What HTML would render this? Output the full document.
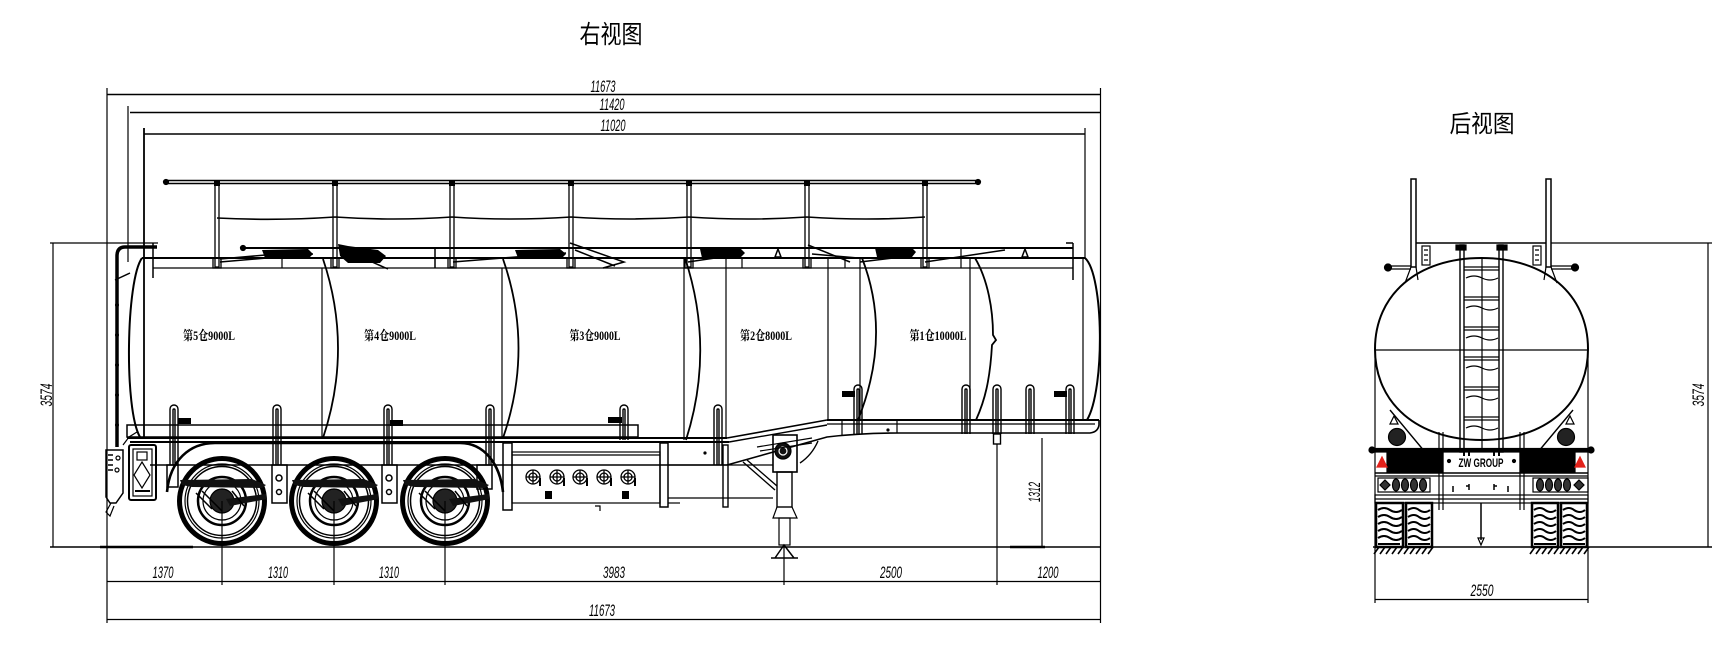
<!DOCTYPE html>
<html><head><meta charset="utf-8">
<style>
html,body{margin:0;padding:0;background:#fff;}
svg{display:block}
.t{font-family:"Liberation Sans","Noto Sans CJK SC",sans-serif;fill:#000;stroke:none}
.d{font-family:"Liberation Sans",sans-serif;font-style:italic;font-size:17px;fill:#000;stroke:none}
.l{font-family:"Liberation Serif","Noto Serif CJK SC",serif;font-weight:bold;font-size:13px;fill:#000;stroke:none}
</style></head>
<body>
<svg width="1726" height="645" viewBox="0 0 1726 645" xmlns="http://www.w3.org/2000/svg">
<rect width="1726" height="645" fill="#fff"/>

<!-- Titles -->
<text class="t" x="611" y="43" font-size="25" text-anchor="middle" textLength="63" lengthAdjust="spacingAndGlyphs">右视图</text>
<text class="t" x="1482" y="132" font-size="24" text-anchor="middle" textLength="65" lengthAdjust="spacingAndGlyphs">后视图</text>

<g stroke="#000" fill="none" stroke-width="1.2">
<!-- ========== MAIN VIEW: dimensions ========== -->
<line x1="107" y1="94.5" x2="1101" y2="94.5" stroke-width="1.4"/>
<line x1="130" y1="112.5" x2="1101" y2="112.5" stroke-width="1.4"/>
<line x1="144" y1="134" x2="1085" y2="134" stroke-width="1.4"/>
<line x1="107" y1="88" x2="107" y2="623"/>
<line x1="1100.5" y1="88" x2="1100.5" y2="623"/>
<line x1="128" y1="106" x2="128" y2="262"/>
<line x1="144" y1="128" x2="144" y2="437" stroke-width="1.8"/>
<line x1="1085" y1="128" x2="1085" y2="258"/>
<!-- 3574 left -->
<line x1="50" y1="243" x2="158" y2="243"/>
<line x1="53" y1="243" x2="53" y2="547"/>
<!-- ground -->
<line x1="50" y1="547" x2="1101" y2="547" stroke-width="1.5"/>
<line x1="100" y1="547" x2="193" y2="547" stroke-width="2.5"/>
<!-- bottom dims -->
<line x1="107" y1="581.5" x2="1100" y2="581.5" stroke-width="1.3"/>
<line x1="107" y1="619.5" x2="1100" y2="619.5" stroke-width="1.3"/>
<line x1="784" y1="545" x2="784" y2="585"/>
<line x1="997" y1="443" x2="997" y2="585"/>
<line x1="1042" y1="438" x2="1042" y2="547"/>
<line x1="1010" y1="547" x2="1045" y2="547" stroke-width="2.5"/>

<!-- ========== Handrail ========== -->
<line x1="166" y1="180.5" x2="978" y2="180.5" stroke-width="1.5"/>
<line x1="166" y1="183.5" x2="978" y2="183.5" stroke-width="1.5"/>
<circle cx="166" cy="182" r="2.5" fill="#000"/>
<circle cx="978" cy="182" r="2.5" fill="#000"/>
<g stroke-width="1.3">
<rect x="215" y="181" width="4" height="86"/><rect x="333" y="181" width="4" height="86"/>
<rect x="450" y="181" width="4" height="86"/><rect x="569" y="181" width="4" height="86"/>
<rect x="687" y="181" width="4" height="86"/><rect x="805" y="181" width="4" height="86"/>
<rect x="923" y="181" width="4" height="86"/>
</g>
<g fill="#000" stroke="none">
<rect x="214" y="181" width="6" height="5"/><rect x="332" y="181" width="6" height="5"/>
<rect x="449" y="181" width="6" height="5"/><rect x="568" y="181" width="6" height="5"/>
<rect x="686" y="181" width="6" height="5"/><rect x="804" y="181" width="6" height="5"/>
<rect x="922" y="181" width="6" height="5"/>
</g>
<g stroke-width="1.3">
<rect x="213" y="258" width="8" height="10"/><rect x="331" y="258" width="8" height="10"/>
<rect x="448" y="258" width="8" height="10"/><rect x="567" y="258" width="8" height="10"/>
<rect x="685" y="258" width="8" height="10"/><rect x="803" y="258" width="8" height="10"/>
<rect x="921" y="258" width="8" height="10"/>
</g>
<path d="M217 218 Q276 221 335 217 Q394 221 452 217 Q511 221 571 217 Q630 221 689 217 Q748 221 807 217 Q866 221 925 217" stroke-width="1.6"/>

<!-- walkway / top -->
<line x1="243" y1="248" x2="1073" y2="248" stroke-width="2"/>
<circle cx="243" cy="248" r="2.5" fill="#000"/>
<line x1="142" y1="258" x2="1085" y2="258" stroke-width="2"/>
<line x1="153" y1="268" x2="1073" y2="268" stroke-width="1.3"/>
<line x1="153" y1="243" x2="153" y2="278" stroke-width="1.5"/>
<line x1="1073" y1="243" x2="1073" y2="280" stroke-width="1.5"/>
<line x1="1066" y1="243" x2="1073" y2="243" stroke-width="1.5"/>
<line x1="282" y1="258" x2="282" y2="268"/>
<line x1="435" y1="248" x2="435" y2="268" stroke-width="1.5"/>
<line x1="742" y1="258" x2="742" y2="268"/>
<line x1="845" y1="258" x2="845" y2="268"/>
<line x1="961" y1="248" x2="961" y2="268"/>
<!-- manholes / levers -->
<g fill="#000" stroke="none">
<path d="M262 250 L308 249 L313 254 L309 258 L265 258 Z"/>
<path d="M338 244 L348 246 L378 250 L386 256 L380 263 L348 263 L340 256 Z"/>
<path d="M515 250 L560 249 L566 254 L562 258 L518 258 Z"/>
<path d="M700 249 L740 248 L745 253 L740 258 L702 258 Z"/>
<path d="M875 248 L912 248 L916 252 L912 257 L877 257 Z"/>
</g>
<g stroke-width="1.5">
<path d="M220 262 L313 254"/><path d="M220 259 L300 252"/>
<path d="M372 262 L388 269"/>
<path d="M453 262 L566 253"/>
<path d="M570 243 L624 262 L603 268"/><path d="M575 250 L615 266"/>
<path d="M688 262 L742 254"/>
<path d="M808 245 L850 262"/><path d="M812 254 L858 258"/>
<path d="M860 262 L910 256"/>
<path d="M925 262 L1005 250"/>
<path d="M775 257 L778 249 L781 257 Z"/><path d="M1022 257 L1025 249 L1028 257 Z"/>
</g>

<!-- left pipe -->
<path d="M157 247 L125 247 Q117 247 117 256 L117 447" stroke-width="3.5"/>
<path d="M115 280 L130 273" stroke-width="1.5"/>
<g fill="#000" stroke="none">
<circle cx="117" cy="305" r="2"/><circle cx="117" cy="335" r="2"/><circle cx="117" cy="365" r="2"/>
<circle cx="117" cy="395" r="2"/><circle cx="117" cy="425" r="2"/>
</g>

<!-- ========== Tank ========== -->
<path d="M142 258 C126 280 124 410 140 437" stroke-width="2"/>
<path d="M1085 258 C1104 275 1105 390 1087 420" stroke-width="2"/>
<!-- dividers -->
<line x1="322" y1="268" x2="322" y2="437"/>
<path d="M323 259 Q353 348 323 438" stroke-width="1.8"/>
<line x1="502" y1="268" x2="502" y2="437"/>
<path d="M503 259 Q534 348 503 438" stroke-width="1.8"/>
<line x1="684" y1="258" x2="684" y2="440"/>
<path d="M685 258 Q715 349 686 440" stroke-width="1.8"/>
<line x1="726" y1="258" x2="726" y2="438"/>
<line x1="828" y1="258" x2="828" y2="420"/>
<line x1="860" y1="258" x2="860" y2="420"/>
<path d="M862 258 Q892 335 858 420" stroke-width="1.8"/>
<line x1="970" y1="258" x2="970" y2="420"/>
<path d="M975 258 C988 280 993 310 993 335 L996 340 L992 345 C990 380 985 400 976 420" stroke-width="1.8"/>
<line x1="1083" y1="258" x2="1083" y2="420"/>

<!-- compartment labels -->
<text class="l" x="209" y="340" text-anchor="middle" textLength="52" lengthAdjust="spacingAndGlyphs">第5仓9000L</text>
<text class="l" x="390" y="340" text-anchor="middle" textLength="52" lengthAdjust="spacingAndGlyphs">第4仓9000L</text>
<text class="l" x="595" y="340" text-anchor="middle" textLength="51" lengthAdjust="spacingAndGlyphs">第3仓9000L</text>
<text class="l" x="766" y="340" text-anchor="middle" textLength="52" lengthAdjust="spacingAndGlyphs">第2仓8000L</text>
<text class="l" x="938" y="340" text-anchor="middle" textLength="57" lengthAdjust="spacingAndGlyphs">第1仓10000L</text>

<!-- handles rear -->
<g stroke-width="1.4">
<path d="M170 465 L170 409 A4 4 0 0 1 178 409 L178 465"/><path d="M173 465 L173 410 A1 1 0 0 1 175 410 L175 465"/>
<path d="M273 465 L273 409 A4 4 0 0 1 281 409 L281 465"/><path d="M276 465 L276 410 A1 1 0 0 1 278 410 L278 465"/>
<path d="M384 465 L384 409 A4 4 0 0 1 392 409 L392 465"/><path d="M387 465 L387 410 A1 1 0 0 1 389 410 L389 465"/>
<path d="M486 465 L486 409 A4 4 0 0 1 494 409 L494 465"/><path d="M489 465 L489 410 A1 1 0 0 1 491 410 L491 465"/>
<path d="M620 440 L620 409 A4 4 0 0 1 628 409 L628 440"/><path d="M623 440 L623 410 A1 1 0 0 1 625 410 L625 440"/>
<path d="M714 465 L714 409 A4 4 0 0 1 722 409 L722 465"/><path d="M717 465 L717 410 A1 1 0 0 1 719 410 L719 465"/>
<!-- front -->
<path d="M854 434 L854 389 A4 4 0 0 1 862 389 L862 434"/><path d="M857 434 L857 390 A1 1 0 0 1 859 390 L859 434"/>
<path d="M962 434 L962 389 A4 4 0 0 1 970 389 L970 434"/><path d="M965 434 L965 390 A1 1 0 0 1 967 390 L967 434"/>
<path d="M993 434 L993 389 A4 4 0 0 1 1001 389 L1001 434"/><path d="M996 434 L996 390 A1 1 0 0 1 998 390 L998 434"/>
<path d="M1026 434 L1026 389 A4 4 0 0 1 1034 389 L1034 434"/><path d="M1029 434 L1029 390 A1 1 0 0 1 1031 390 L1031 434"/>
<path d="M1066 434 L1066 389 A4 4 0 0 1 1074 389 L1074 434"/><path d="M1069 434 L1069 390 A1 1 0 0 1 1071 390 L1071 434"/>
</g>
<g fill="#000" stroke="none">
<rect x="178" y="418" width="13" height="6"/>
<rect x="390" y="420" width="13" height="6"/>
<rect x="608" y="417" width="14" height="6"/>
<rect x="842" y="391" width="13" height="6"/>
<rect x="1054" y="391" width="13" height="6"/>
</g>

<!-- ========== Chassis ========== -->
<rect x="127" y="425" width="511" height="12" stroke-width="1.5"/>
<line x1="127" y1="438" x2="727" y2="438" stroke-width="2"/>
<line x1="130" y1="442" x2="729" y2="442" stroke-width="2"/>
<line x1="150" y1="465" x2="727" y2="465" stroke-width="1.6"/>
<path d="M727 438 L827 420" stroke-width="1.6"/>
<path d="M729 442 L827 425" stroke-width="1.4"/>
<path d="M727 465 L827 437 Q860 433 900 433 L1090 433 Q1098 432 1099 425 L1099 420" stroke-width="1.6"/>
<line x1="827" y1="420" x2="1099" y2="420" stroke-width="2"/>
<line x1="827" y1="424" x2="1095" y2="424"/>
<line x1="842" y1="420" x2="842" y2="436"/>
<line x1="897" y1="420" x2="897" y2="433"/>
<circle cx="888" cy="430" r="1" fill="#000"/>
<rect x="993.5" y="434" width="7" height="10" fill="#fff" stroke-width="1.4"/>
<!-- valve box -->
<rect x="503" y="443" width="9" height="67" stroke-width="1.5"/>
<rect x="660" y="443" width="8" height="64" stroke-width="1.5"/>
<rect x="512" y="452" width="148" height="51"/>
<line x1="512" y1="455" x2="660" y2="455"/>
<g stroke-width="1.3">
<circle cx="533" cy="477" r="7"/><circle cx="533" cy="477" r="4"/><path d="M526 477 H540 M533 470 V484"/>
<circle cx="557" cy="477" r="7"/><circle cx="557" cy="477" r="4"/><path d="M550 477 H564 M557 470 V484"/>
<circle cx="580" cy="477" r="7"/><circle cx="580" cy="477" r="4"/><path d="M573 477 H587 M580 470 V484"/>
<circle cx="604" cy="477" r="7"/><circle cx="604" cy="477" r="4"/><path d="M597 477 H611 M604 470 V484"/>
<circle cx="628" cy="477" r="7"/><circle cx="628" cy="477" r="4"/><path d="M621 477 H635 M628 470 V484"/>
<path d="M540 478 V486 M564 478 V486 M587 478 V486 M611 478 V486 M635 478 V486" stroke-width="2"/>
</g>
<rect x="545" y="491" width="7" height="8" fill="#000" stroke="none"/>
<rect x="622" y="491" width="7" height="8" fill="#000" stroke="none"/>
<path d="M595 506 L600 506 L600 511"/>
<line x1="668" y1="465" x2="773" y2="465"/>
<line x1="668" y1="498" x2="773" y2="498"/>
<line x1="668" y1="503" x2="680" y2="503"/>
<rect x="723" y="445" width="5" height="62" stroke-width="1.4"/>
<circle cx="705" cy="453" r="1" fill="#000"/>
<!-- landing gear -->
<rect x="773" y="435" width="24" height="37" stroke-width="1.6"/>
<circle cx="783" cy="451" r="8" fill="#111"/>
<circle cx="783" cy="451" r="4" stroke="#fff"/>
<rect x="777" y="472" width="15" height="35" stroke-width="1.4"/>
<path d="M777 507 L773 518 L797 518 L792 507"/>
<rect x="779" y="518" width="11" height="27"/>
<path d="M775 558 L784 545 L794 558 M771 558 H798" stroke-width="1.5"/>
<path d="M743 462 L775 490 M747 460 L777 486" stroke-width="1.4"/>
<path d="M800 463 Q812 455 818 441" stroke-width="1.4"/>
<path d="M757 447 L812 438 M760 451 L812 443"/>

<!-- fender -->
<path d="M167 492 C170 460 190 443 215 443 L460 443 C485 443 500 465 503 492" stroke-width="2.6"/>

<!-- hangers -->
<g stroke-width="1.5">
<rect x="167" y="465" width="11" height="22"/>
<rect x="272" y="465" width="15" height="38"/>
<rect x="382" y="465" width="15" height="38"/>
<rect x="477" y="465" width="15" height="24"/>
<circle cx="279" cy="478" r="3"/><circle cx="389" cy="478" r="3"/><circle cx="279" cy="492" r="2.5"/><circle cx="389" cy="492" r="2.5"/>
</g>

<!-- wheels -->
<g transform="translate(222,501)">
<circle r="42.5" stroke-width="5"/><circle r="37"/><circle r="34.5" stroke-width="1.5"/><circle r="24" stroke-width="2.5"/><circle r="19"/><circle r="12" fill="#222"/>
<path d="M-42 -21 L30 -22 L44 -16 L40 -13 L-30 -14 L-40 -16 Z" fill="#111" stroke="none"/>
<path d="M4 -2 L44 -7 L45 -2 L8 5 Z" fill="#111" stroke="none"/>
<path d="M-26 -8 L-10 8 M-20 -10 L0 10 M10 -10 L22 5" stroke-width="1.5"/>
</g>
<g transform="translate(334,501)">
<circle r="42.5" stroke-width="5"/><circle r="37"/><circle r="34.5" stroke-width="1.5"/><circle r="24" stroke-width="2.5"/><circle r="19"/><circle r="12" fill="#222"/>
<path d="M-42 -21 L30 -22 L44 -16 L40 -13 L-30 -14 L-40 -16 Z" fill="#111" stroke="none"/>
<path d="M4 -2 L44 -7 L45 -2 L8 5 Z" fill="#111" stroke="none"/>
<path d="M-26 -8 L-10 8 M-20 -10 L0 10 M10 -10 L22 5" stroke-width="1.5"/>
</g>
<g transform="translate(445,501)">
<circle r="42.5" stroke-width="5"/><circle r="37"/><circle r="34.5" stroke-width="1.5"/><circle r="24" stroke-width="2.5"/><circle r="19"/><circle r="12" fill="#222"/>
<path d="M-42 -21 L30 -22 L44 -16 L40 -13 L-30 -14 L-40 -16 Z" fill="#111" stroke="none"/>
<path d="M4 -2 L44 -7 L45 -2 L8 5 Z" fill="#111" stroke="none"/>
<path d="M-26 -8 L-10 8 M-20 -10 L0 10 M10 -10 L22 5" stroke-width="1.5"/>
</g>
<line x1="222" y1="501" x2="222" y2="585"/>
<line x1="334" y1="501" x2="334" y2="585"/>
<line x1="445" y1="501" x2="445" y2="585"/>

<!-- rear lamp / bumper (left) -->
<rect x="129" y="445" width="27" height="55" rx="2" stroke-width="2"/>
<rect x="133" y="449" width="19" height="47"/>
<rect x="137" y="452" width="10" height="8"/>
<path d="M142 462 L150 475 L142 488 L134 475 Z"/>
<line x1="135" y1="491" x2="150" y2="491" stroke-width="2"/>
<path d="M106 450 L123 450 L123 493 L116 503 L110 503 L106 497 Z" stroke-width="1.5"/>
<path d="M108 455 H113 M108 460 H113 M108 465 H113 M108 470 H113" stroke-width="1.5"/>
<circle cx="118" cy="458" r="2"/><circle cx="117" cy="470" r="2"/>
<path d="M111 503 L106 512 L110 516 L114 506"/>
<path d="M123 445 L129 437 L137 432"/>

<!-- ========== REAR VIEW ========== -->
<path d="M1375 349 C1375 294.4 1417.6 258 1481.5 258 C1545.4 258 1588 294.4 1588 349 C1588 403.6 1545.4 440 1481.5 440 C1417.6 440 1375 403.6 1375 349 Z" stroke-width="2"/>
<line x1="1375" y1="350" x2="1588" y2="350"/>
<line x1="1375" y1="349" x2="1375" y2="603"/>
<line x1="1588" y1="349" x2="1588" y2="603"/>
<!-- ladder -->
<rect x="1460" y="245" width="4" height="207" stroke-width="1.4"/>
<rect x="1499" y="245" width="4" height="207" stroke-width="1.4"/>
<line x1="1482" y1="258" x2="1482" y2="452"/>
<g stroke-width="1.2">
<path d="M1464 267 H1499 M1464 270 H1499"/>
<path d="M1464 297 H1499 M1464 300 H1499"/>
<path d="M1464 327 H1499 M1464 330 H1499"/>
<path d="M1464 357 H1499 M1464 360 H1499"/>
<path d="M1464 387 H1499 M1464 390 H1499"/>
<path d="M1464 417 H1499 M1464 420 H1499"/>
<path d="M1466 278 q8 -4 16 0 q8 4 16 0"/>
<path d="M1466 308 q8 -4 16 0 q8 4 16 0"/>
<path d="M1466 338 q8 -4 16 0 q8 4 16 0"/>
<path d="M1466 368 q8 -4 16 0 q8 4 16 0"/>
<path d="M1466 398 q8 -4 16 0 q8 4 16 0"/>
<path d="M1466 428 q8 -4 16 0 q8 4 16 0"/>
</g>
<!-- posts & top -->
<rect x="1411" y="179" width="5" height="88" stroke-width="1.5"/>
<rect x="1546" y="179" width="5" height="88" stroke-width="1.5"/>
<line x1="1416" y1="243" x2="1546" y2="243" stroke-width="1.5"/>
<line x1="1551" y1="243" x2="1712" y2="243"/>
<rect x="1456" y="245" width="10" height="5" fill="#000"/>
<rect x="1497" y="245" width="10" height="5" fill="#000"/>
<rect x="1422" y="246" width="8" height="19"/>
<rect x="1533" y="246" width="8" height="19"/>
<path d="M1424 250 h4 M1424 255 h4 M1424 260 h4 M1535 250 h4 M1535 255 h4 M1535 260 h4"/>
<path d="M1387 266 H1411 M1387 269 H1411 M1551 266 H1576 M1551 269 H1576"/>
<circle cx="1388" cy="267.5" r="3.5" fill="#000"/>
<circle cx="1575" cy="267.5" r="3.5" fill="#000"/>
<path d="M1411 267 L1405 283 M1416 267 L1418 280 M1551 267 L1557 283 M1546 267 L1544 280"/>
<!-- under tank -->
<path d="M1390 410 L1425 452 M1573 410 L1538 452" stroke-width="1.4"/>
<path d="M1390 424 L1394 416 L1398 424 Z M1566 424 L1570 416 L1574 424 Z"/>
<circle cx="1397" cy="437" r="8.5" fill="#222"/>
<circle cx="1566" cy="437" r="8.5" fill="#222"/>
<path d="M1439 432 V510 M1443 432 V510 M1520 432 V510 M1524 432 V510"/>
<path d="M1464 450 V456 M1469 450 V456 M1494 450 V456 M1499 450 V456" stroke-width="2"/>
<!-- bumper -->
<rect x="1371" y="448.5" width="221" height="3.5" fill="#000"/>
<circle cx="1372" cy="450" r="3" fill="#000"/>
<circle cx="1591" cy="450" r="3" fill="#000"/>
<rect x="1387" y="452" width="56" height="20" fill="#000"/>
<rect x="1520" y="452" width="55" height="20" fill="#000"/>
<path d="M1377 467 L1382 457 L1387 467 Z" fill="#e3221b" stroke="#e3221b"/>
<path d="M1575 467 L1580 457 L1585 467 Z" fill="#e3221b" stroke="#e3221b"/>
<circle cx="1449" cy="461" r="1.5" fill="#000"/>
<circle cx="1514" cy="461" r="1.5" fill="#000"/>
<line x1="1375" y1="473" x2="1588" y2="473" stroke-width="1.5"/>
<line x1="1375" y1="476" x2="1588" y2="476"/>
<!-- lights -->
<rect x="1378" y="478" width="52" height="14"/>
<rect x="1533" y="478" width="55" height="14"/>
<g fill="#333" stroke="#000">
<path d="M1380 485 L1385 480 L1390 485 L1385 490 Z"/>
<ellipse cx="1396" cy="485" rx="3.5" ry="6"/><ellipse cx="1405" cy="485" rx="3.5" ry="6"/>
<ellipse cx="1414" cy="485" rx="3.5" ry="6"/><ellipse cx="1423" cy="485" rx="3.5" ry="6"/>
<ellipse cx="1540" cy="485" rx="3.5" ry="6"/><ellipse cx="1549" cy="485" rx="3.5" ry="6"/>
<ellipse cx="1558" cy="485" rx="3.5" ry="6"/><ellipse cx="1567" cy="485" rx="3.5" ry="6"/>
<path d="M1574 485 L1579 480 L1584 485 L1579 490 Z"/>
</g>
<path d="M1453 486 V492 M1466 486 h3 M1469 484 V490 M1494 484 V490 M1494 486 h3 M1508 486 V492" stroke-width="1.5"/>
<!-- bar -->
<rect x="1375" y="495" width="213" height="8"/>
<line x1="1375" y1="499" x2="1588" y2="499"/>
<!-- tires -->
<g stroke-width="2.5">
<rect x="1376" y="503" width="27" height="44"/>
<rect x="1406" y="503" width="26" height="44"/>
<rect x="1532" y="503" width="26" height="44"/>
<rect x="1561" y="503" width="26" height="44"/>
</g>
<g stroke-width="2">
<path d="M1378 510 q6 -4 12 0 q6 4 12 0 M1378 517 q6 -4 12 0 q6 4 12 0 M1378 524 q6 -4 12 0 q6 4 12 0 M1378 531 q6 -4 12 0 q6 4 12 0 M1378 538 q6 -4 12 0 q6 4 12 0"/>
<path d="M1408 510 q6 -4 11 0 q6 4 11 0 M1408 517 q6 -4 11 0 q6 4 11 0 M1408 524 q6 -4 11 0 q6 4 11 0 M1408 531 q6 -4 11 0 q6 4 11 0 M1408 538 q6 -4 11 0 q6 4 11 0"/>
<path d="M1534 510 q6 -4 11 0 q6 4 11 0 M1534 517 q6 -4 11 0 q6 4 11 0 M1534 524 q6 -4 11 0 q6 4 11 0 M1534 531 q6 -4 11 0 q6 4 11 0 M1534 538 q6 -4 11 0 q6 4 11 0"/>
<path d="M1563 510 q6 -4 11 0 q6 4 11 0 M1563 517 q6 -4 11 0 q6 4 11 0 M1563 524 q6 -4 11 0 q6 4 11 0 M1563 531 q6 -4 11 0 q6 4 11 0 M1563 538 q6 -4 11 0 q6 4 11 0"/>
<path d="M1378 544 h22 M1408 544 h22 M1534 544 h22 M1563 544 h22"/>
</g>
<g stroke-width="1.6">
<path d="M1374 554 l5 -7 M1380 554 l5 -7 M1386 554 l5 -7 M1392 554 l5 -7 M1398 554 l5 -7 M1404 554 l5 -7 M1410 554 l5 -7 M1416 554 l5 -7 M1422 554 l5 -7 M1428 554 l5 -7"/>
<path d="M1530 554 l5 -7 M1536 554 l5 -7 M1542 554 l5 -7 M1548 554 l5 -7 M1554 554 l5 -7 M1560 554 l5 -7 M1566 554 l5 -7 M1572 554 l5 -7 M1578 554 l5 -7 M1584 554 l5 -7"/>
</g>
<line x1="1481" y1="503" x2="1481" y2="540" stroke-width="1.5"/>
<path d="M1478 538 L1481 545 L1484 538 Z"/>
<line x1="1373" y1="547" x2="1712" y2="547" stroke-width="1.5"/>
<line x1="1708" y1="243" x2="1708" y2="547"/>
<line x1="1375" y1="599.5" x2="1588" y2="599.5" stroke-width="1.3"/>
</g>

<!-- dimension texts -->
<text class="d" x="603" y="92" text-anchor="middle" textLength="25" lengthAdjust="spacingAndGlyphs">11673</text>
<text class="d" x="612" y="110" text-anchor="middle" textLength="25" lengthAdjust="spacingAndGlyphs">11420</text>
<text class="d" x="613" y="131" text-anchor="middle" textLength="25" lengthAdjust="spacingAndGlyphs">11020</text>
<text class="d" x="163" y="578" text-anchor="middle" textLength="21" lengthAdjust="spacingAndGlyphs">1370</text>
<text class="d" x="278" y="578" text-anchor="middle" textLength="20" lengthAdjust="spacingAndGlyphs">1310</text>
<text class="d" x="389" y="578" text-anchor="middle" textLength="20" lengthAdjust="spacingAndGlyphs">1310</text>
<text class="d" x="614" y="578" text-anchor="middle" textLength="22" lengthAdjust="spacingAndGlyphs">3983</text>
<text class="d" x="891" y="578" text-anchor="middle" textLength="22" lengthAdjust="spacingAndGlyphs">2500</text>
<text class="d" x="1048" y="578" text-anchor="middle" textLength="21" lengthAdjust="spacingAndGlyphs">1200</text>
<text class="d" x="602" y="616" text-anchor="middle" textLength="26" lengthAdjust="spacingAndGlyphs">11673</text>
<text class="d" transform="translate(52,395) rotate(-90)" x="0" y="0" text-anchor="middle" textLength="23" lengthAdjust="spacingAndGlyphs">3574</text>
<text class="d" transform="translate(1040,492) rotate(-90)" x="0" y="0" text-anchor="middle" textLength="20" lengthAdjust="spacingAndGlyphs">1312</text>
<text class="d" transform="translate(1704,395) rotate(-90)" x="0" y="0" text-anchor="middle" textLength="23" lengthAdjust="spacingAndGlyphs">3574</text>
<text class="d" x="1482" y="596" text-anchor="middle" textLength="23" lengthAdjust="spacingAndGlyphs">2550</text>
<text x="1481" y="467" text-anchor="middle" font-family="Liberation Sans, sans-serif" font-weight="bold" font-size="12" fill="#000" textLength="45" lengthAdjust="spacingAndGlyphs">ZW GROUP</text>
</svg>
</body></html>
